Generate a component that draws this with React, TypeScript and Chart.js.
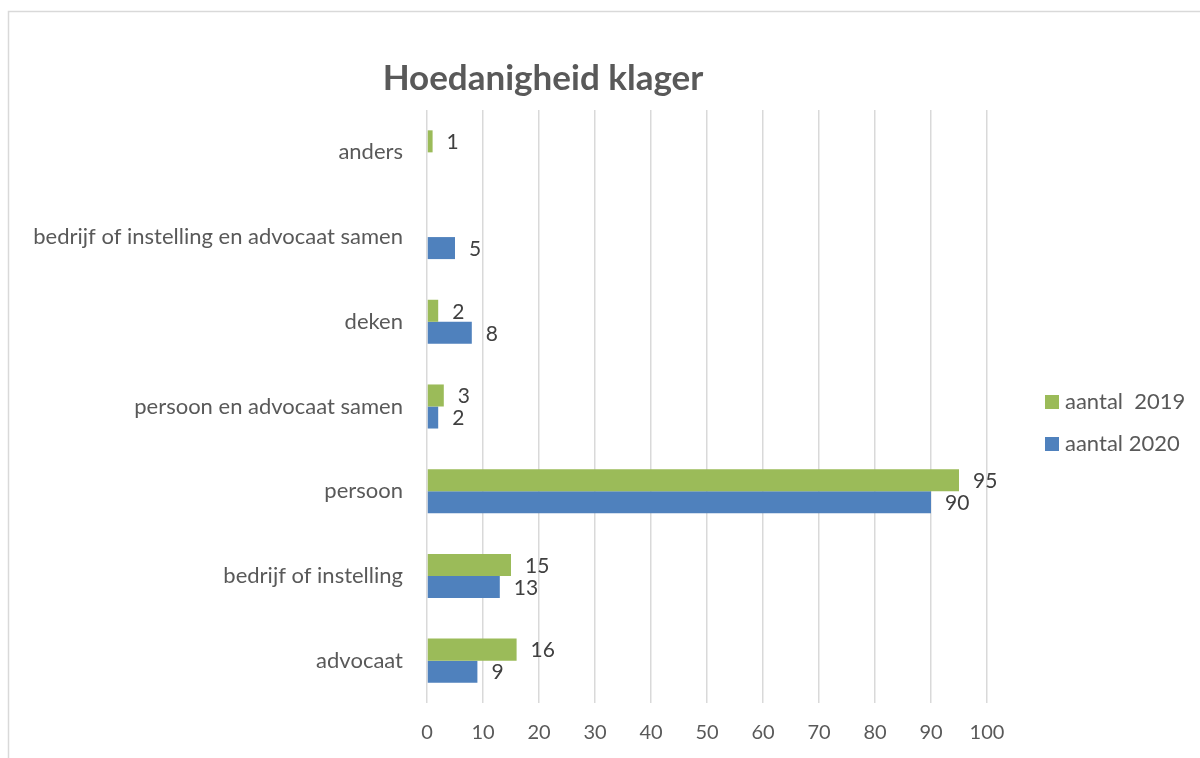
import React, { useEffect, useRef } from "react";
import { Chart, registerables } from "chart.js";

Chart.register(...registerables);

const categories = [
  "anders",
  "bedrijf of instelling en advocaat samen",
  "deken",
  "persoon en advocaat samen",
  "persoon",
  "bedrijf of instelling",
  "advocaat",
];
const values2019: (number | null)[] = [1, null, 2, 3, 95, 15, 16];
const values2020: (number | null)[] = [null, 5, 8, 2, 90, 13, 9];
const seriesLabels = ["aantal  2019", "aantal 2020"];
const xTicks = [0, 10, 20, 30, 40, 50, 60, 70, 80, 90, 100];
const titleText = "Hoedanigheid klager";

const FONT = "Lato, 'Open Sans', sans-serif";
const GREEN = "#9BBB59";
const BLUE = "#4F81BD";
const TEXT = "#595959";

export default function App() {
  const ref = useRef<HTMLCanvasElement | null>(null);

  useEffect(() => {
    if (!ref.current) return;

    const framePlugin = {
      id: "frame",
      beforeDraw(chart: any) {
        const ctx = chart.ctx;
        ctx.save();
        ctx.fillStyle = "#ffffff";
        ctx.fillRect(0, 0, chart.width, chart.height);
        ctx.strokeStyle = "#D9D9D9";
        ctx.lineWidth = 1.5;
        ctx.beginPath();
        ctx.moveTo(8.5, chart.height);
        ctx.lineTo(8.5, 11.5);
        ctx.lineTo(chart.width, 11.5);
        ctx.stroke();
        ctx.restore();
      },
    };

    const titlePlugin = {
      id: "customTitle",
      afterDraw(chart: any) {
        const ctx = chart.ctx;
        ctx.save();
        ctx.fillStyle = TEXT;
        ctx.font = `bold 35px ${FONT}`;
        ctx.textAlign = "center";
        ctx.textBaseline = "middle";
        ctx.fillText(titleText, 543, 79);
        ctx.restore();
      },
    };

    const labelPlugin = {
      id: "valueLabels",
      afterDatasetsDraw(chart: any) {
        const ctx = chart.ctx;
        ctx.save();
        ctx.fillStyle = "#404040";
        ctx.font = `21px ${FONT}`;
        ctx.textAlign = "left";
        ctx.textBaseline = "middle";
        chart.data.datasets.forEach((ds: any, di: number) => {
          const meta = chart.getDatasetMeta(di);
          meta.data.forEach((el: any, i: number) => {
            const v = ds.data[i];
            if (v === null || v === undefined) return;
            ctx.fillText(String(v), el.x + 14, el.y + 1);
          });
        });
        ctx.restore();
      },
    };

    const legendPlugin = {
      id: "customLegend",
      afterDraw(chart: any) {
        const ctx = chart.ctx;
        ctx.save();
        ctx.font = `22px ${FONT}`;
        ctx.textAlign = "left";
        ctx.textBaseline = "middle";
        chart.data.datasets.forEach((ds: any, di: number) => {
          const cy = 402 + di * 42;
          ctx.fillStyle = ds.backgroundColor;
          ctx.fillRect(1045, cy - 7, 14, 14);
          ctx.fillStyle = TEXT;
          ctx.fillText(ds.label, 1065, cy);
        });
        ctx.restore();
      },
    };

    const chart = new Chart(ref.current, {
      type: "bar",
      data: {
        labels: categories,
        datasets: [
          {
            label: seriesLabels[0],
            data: values2019,
            backgroundColor: GREEN,
            categoryPercentage: 0.52,
            barPercentage: 1,
          },
          {
            label: seriesLabels[1],
            data: values2020,
            backgroundColor: BLUE,
            categoryPercentage: 0.52,
            barPercentage: 1,
          },
        ],
      },
      options: {
        indexAxis: "y",
        animation: false,
        responsive: false,
        maintainAspectRatio: false,
        layout: { padding: { left: 0, right: 213, top: 110, bottom: 0 } },
        plugins: {
          legend: { display: false },
          title: { display: false },
          tooltip: { enabled: false },
        },
        scales: {
          x: {
            type: "linear",
            min: 0,
            max: 100,
            afterBuildTicks(axis: any) {
              axis.ticks = xTicks.map((v) => ({ value: v }));
            },
            grid: { color: "#D9D9D9", lineWidth: 1.5, drawTicks: false },
            border: { display: false },
            ticks: {
              color: TEXT,
              font: { family: FONT, size: 20 },
              padding: 18,
            },
            afterFit(axis: any) {
              axis.height = 55;
            },
          },
          y: {
            type: "category",
            grid: { display: false, drawTicks: false },
            border: { display: false },
            ticks: {
              color: TEXT,
              font: { family: FONT, size: 22 },
              padding: 24,
            },
            afterFit(axis: any) {
              axis.width = 427;
            },
          },
        },
      },
      plugins: [framePlugin, titlePlugin, labelPlugin, legendPlugin],
    } as any);

    return () => chart.destroy();
  }, []);

  return (
    <div style={{ position: "fixed", left: 0, top: 0, width: 1200, height: 758 }}>
      <canvas ref={ref} width={1200} height={758} style={{ width: 1200, height: 758 }} />
    </div>
  );
}
